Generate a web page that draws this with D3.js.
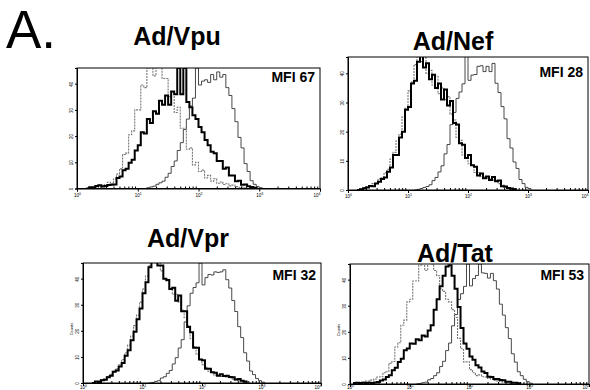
<!DOCTYPE html>
<html><head><meta charset="utf-8">
<script src="https://cdn.jsdelivr.net/npm/d3@7/dist/d3.min.js"></script>
<style>
html,body{margin:0;padding:0;background:#fff;}
svg{display:block;}
</style></head>
<body>
<svg id="chart" width="590" height="390"></svg>
<script>
// ---------- DATA (counts per histogram bin; bins are log10 FL channel, step 0.05) ----------
const panelTitles = ["Ad/Vpu", "Ad/Nef", "Ad/Vpr", "Ad/Tat"];
const mfiLabels = ["MFI 67", "MFI 28", "MFI 32", "MFI 53"];
const yTickValues = [0, 10, 20, 30, 40];
const xTickExponents = [0, 1, 2, 3, 4];
const binStep = 0.05;
const yMax = [46, 45.6, 46, 46];

// series start (log10) for each panel: [gray control, black sample, thin positive]
const grayStart = [0.15, 0.15, 0.15, 0.05];
const blackStart = [0.15, 0.15, 0.15, 0.05];
const thinStart = [1.1, 1.1, 1.1, 1.1];

const grayCounts = [
  [0,0.5,0,1,0.3,1.2,1.5,2.4,1.8,3.6,5.5,7.5,13,13.5,20.5,22,30,30,39.5,38.5,46,47,43,47,47,42,42,35,37,29,31,23,23,15,15.5,9,10,6.5,7,4,5,2.8,3.7,2,2.5,1.5,1.8,1,1.3,0.7,0.5,0.6,0],
  [0,0.5,0.8,1.2,1.5,2.2,2.3,3.8,4.2,5.9,7.1,10.6,12.9,16.8,19.2,25,28,34,37,43,46,44,46,40,41,36,39,33,35,31,32,26,24,18,17,12,12,9,8.5,6,6,4.6,4.4,4,3.9,3.4,3.3,2.2,1.7,0.9,0.7,0.3,0.2,0],
  [0,0.4,0.8,1.3,1.6,2.5,3.3,4.5,5.5,7,9,11.5,14.5,18,22,26,31,36,41,45,47,46,47,43,40,39,36,34,34,31,28,25,22,17,14,11,9,7,6,4.5,4,3,3,2.5,2.6,2.2,2,1.5,1.2,1,0.7,0.4,0],
  [0,0.4,0.6,0.7,1.1,1.1,1.6,1.9,2.7,2.8,4.3,4.7,7.9,8.6,14.2,15.8,22.5,24.5,31.5,32.5,39.5,39.5,45.5,47,43.5,47,46,43.5,41.5,36.5,35.5,32.5,31.5,28.5,25.5,17.5,13.5,8.5,8.5,5.5,4.3,3.2,3.5,2.8,2.7,2.1,1.9,1.4,1.2,0.9,0.7,0.5,0.3,0]
];
const blackCounts = [
  [0,0.5,0.5,1,1.2,0.8,1,1.3,1.4,1.5,4,4.6,7,7.5,9.8,11,14.5,16.5,21.5,21,26.5,25,29.5,28.5,33.5,32,35.5,32,37,36,46,36,46,33,31,28,26.5,23.5,21.5,18.5,16.5,14,13.5,10.5,10.5,7.5,8,5,5,2.8,3,1.4,1.5,0.9,0.6,0.3,0],
  [0,0.3,0.6,0.9,1.4,1.3,2.2,2.8,3.8,4.3,6.3,7.7,12,12,18,20,27.5,28.5,36.5,37.5,44,46,42,43.5,38,39.5,35,36.5,31,34.5,29,30.5,23,22.5,16,15.5,11,12,8.5,8,5,5.7,4,4.6,3.4,4.5,3,3.3,1.3,1.2,0.7,0.5,0.3,0],
  [0,0.6,0.4,1.1,1.2,2.2,2.8,4.3,4.8,6.3,7.7,10.4,12.6,16.4,19.6,24.4,28.6,34.4,38.6,44.4,47,47,45,45,40,39.5,36,36.5,31.5,33.5,27.5,27.5,21.5,19.5,13.5,13.5,9,8.7,5.5,5.5,4.1,3.9,2.8,3.4,2.7,2.8,2.3,2.2,1.3,1.5,0.9,0.6,0],
  [0.4,0.5,0.4,0.5,0.4,0.5,0.4,0.6,0.8,1.3,1.7,2.7,3.4,5.3,6.2,8.4,9.7,12.9,13.6,15.5,15.4,17.2,16.8,18.6,18.2,20.5,22.5,28.5,32.5,37.5,41.5,45,45.5,41.5,36.5,29.5,21.5,15.5,13.5,10.5,9.3,7.2,6.3,4.8,4.2,2.8,2.7,1.9,1.9,1.5,1.4,0.9,0.9,0.5,0.5,0.3,0]
];
const thinCounts = [
  [0,0.3,0.6,0.9,1.6,2.2,2.8,4.3,5.8,8.4,10.5,14.5,17.5,22.5,26.5,31.5,34.5,46,39.5,41,41.5,40.5,43.5,41.5,44.5,42.5,43.5,38.5,35.5,30.5,25.5,19.5,15.5,9.5,6.5,3,1.6,0.7,0.3,0],
  [0,0.2,0.5,0.9,1.2,1.8,3.2,4.3,6.2,8.3,12.4,15.6,22.4,26.6,31.4,33.6,36.4,46,37.6,39.4,39.6,42.4,42.6,40.6,42.4,40.6,43.4,36.6,33.4,28.6,24.4,17.6,14.4,9.6,7.4,3.6,2.2,0.9,0.5,0],
  [0,0.2,0.6,0.9,1.9,2.4,3.7,4.8,7.3,9.7,13.4,16.6,23.4,29.6,34.4,36.6,38.4,46,37.6,40.4,41.6,41.4,42.6,42.4,42.6,43.4,39.6,36.4,31.6,27.4,21.6,17.4,11.6,8.4,4.6,3.2,1.7,0.9,0.3,0],
  [0,0.2,0.5,0.7,1.6,2.1,3.2,4.3,6.7,8.7,12.8,15.7,22.3,26.6,32.4,34.6,37.4,46,37.6,40.4,41.6,46,42.6,42.4,40.6,42.4,39.6,36.4,30.6,26.4,21.6,17.4,11.6,8.4,4.7,3.2,1.8,0.9,0.3,0]
];

// ---------- LAYOUT ----------
const layout = [
  {x0: 77,  x1: 320, y0: 68,  y1: 188.5, tx: 177, ty: 45,  my: 14, lblY: 8,   showCounts: false},
  {x0: 348, x1: 588, y0: 57,  y1: 190,   tx: 453, ty: 50,  my: 20, lblY: 8,   showCounts: false},
  {x0: 83,  x1: 321, y0: 263, y1: 383,   tx: 188, ty: 247, my: 17, lblY: 5.5, showCounts: true},
  {x0: 350, x1: 589, y0: 264, y1: 384,   tx: 455, ty: 262, my: 16, lblY: 5,   showCounts: true}
];

const svg = d3.select("#chart");
const FONT = "Liberation Sans, Arial, sans-serif";

svg.append("text").attr("x", 6).attr("y", 48)
  .attr("font-family", FONT)
  .attr("font-size", 53).attr("fill", "#000").text("A.");

const minorVals = [];
for (let e = 0; e < 4; e++) for (let m = 2; m <= 9; m++) minorVals.push(m * Math.pow(10, e));

layout.forEach((L, p) => {
  const w = L.x1 - L.x0, h = L.y1 - L.y0;
  const x = d3.scaleLog().domain([1, 1e4]).range([0, w]);
  const y = d3.scaleLinear().domain([0, yMax[p]]).range([h, 0]);

  svg.append("text").attr("x", L.tx).attr("y", L.ty)
    .attr("text-anchor", "middle")
    .attr("font-family", FONT)
    .attr("font-weight", "bold").attr("font-size", 25).attr("fill", "#000")
    .text(panelTitles[p]);

  const g = svg.append("g").attr("transform", `translate(${L.x0},${L.y0})`);
  const clipId = "clip" + p;
  g.append("clipPath").attr("id", clipId).append("rect")
    .attr("x", 0).attr("y", 0).attr("width", w).attr("height", h);

  const mk = (start) => d3.line()
    .x((d, i) => x(Math.pow(10, start + i * binStep)))
    .y(d => y(d))
    .curve(d3.curveStepAfter);

  const plot = g.append("g").attr("clip-path", `url(#${clipId})`);
  plot.append("path").datum(thinCounts[p]).attr("d", mk(thinStart[p]))
    .attr("fill", "none").attr("stroke", "#333").attr("stroke-width", 0.9);
  plot.append("path").datum(grayCounts[p]).attr("d", mk(grayStart[p]))
    .attr("fill", "none").attr("stroke", "#777").attr("stroke-width", 1.1)
    .attr("stroke-dasharray", "2,1");
  plot.append("path").datum(blackCounts[p]).attr("d", mk(blackStart[p]))
    .attr("fill", "none").attr("stroke", "#000").attr("stroke-width", 2);

  // frame
  g.append("rect").attr("x", 0).attr("y", 0).attr("width", w).attr("height", h)
    .attr("fill", "none").attr("stroke", "#000").attr("stroke-width", 1);

  // x axis major
  const xAx = g.append("g").attr("transform", `translate(0,${h})`)
    .call(d3.axisBottom(x).tickValues(xTickExponents.map(e => Math.pow(10, e)))
      .tickSize(3).tickFormat(() => ""));
  xAx.select(".domain").attr("stroke", "#000");
  xAx.selectAll(".tick").each(function(d, i) {
    const last = i === xTickExponents.length - 1;
    const t = d3.select(this).append("text").attr("y", L.lblY).attr("fill", "#000")
      .attr("font-family", FONT).attr("font-size", 4.5)
      .attr("text-anchor", last ? "end" : "middle");
    t.append("tspan").text("10");
    t.append("tspan").attr("dy", -1.6).attr("font-size", 3.5).text(Math.round(Math.log10(d)));
  });
  // x axis minor (inward)
  const xMin = g.append("g").attr("transform", `translate(0,${h})`)
    .call(d3.axisBottom(x).tickValues(minorVals).tickSize(-2).tickFormat(""));
  xMin.select(".domain").remove();

  // y axis
  const yAx = g.append("g")
    .call(d3.axisLeft(y).tickValues(yTickValues).tickSize(2).tickFormat(""));
  yAx.select(".domain").attr("stroke", "#000");
  yAx.selectAll(".tick").append("text")
    .attr("transform", "translate(-4,0) rotate(-90)")
    .attr("text-anchor", "middle").attr("fill", "#000")
    .attr("font-family", FONT).attr("font-size", 4.5)
    .text(d => d);

  if (L.showCounts) {
    g.append("text").attr("transform", `translate(-10,${h * 0.55}) rotate(-90)`)
      .attr("text-anchor", "middle").attr("fill", "#000")
      .attr("font-family", FONT).attr("font-size", 4)
      .text("Counts");
  }

  // MFI label
  g.append("text").attr("x", w - 5).attr("y", L.my)
    .attr("text-anchor", "end").attr("fill", "#000")
    .attr("font-family", FONT)
    .attr("font-weight", "bold").attr("font-size", 14)
    .text(mfiLabels[p]);
});
</script>
</body></html>
